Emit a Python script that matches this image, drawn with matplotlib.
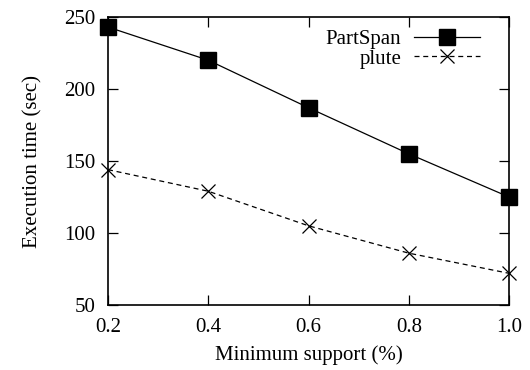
import matplotlib
matplotlib.use('Agg')
import matplotlib.pyplot as plt

plt.rcParams['font.family'] = ['Liberation Serif', 'DejaVu Serif']

support = [0.2, 0.4, 0.6, 0.8, 1.0]
partspan = [243, 220, 187, 155, 125]
plute = [144, 129, 105, 86, 72]

fig = plt.figure(figsize=(5.3, 3.7), dpi=100)
ax = fig.add_axes([108/530, 1-305/370, 401/530, 288/370])

ax.plot(support, partspan, color='black', lw=0.9, marker='s', ms=11,
        clip_on=False, label='PartSpan')
ax.plot(support, plute, color='black', lw=0.9, ls=(0, (4, 3)), marker='x', ms=10,
        mew=0.9, clip_on=False, label='plute')

ax.set_xlim(0.2, 1.0)
ax.set_ylim(50, 250)
ax.set_xticks(support)
ax.set_xticklabels(['0.2', '0.4', '0.6', '0.8', '1.0'])
ax.set_yticks([50, 100, 150, 200, 250])
ax.tick_params(direction='in', top=True, right=True, length=7, width=0.9, labelsize=15)
ax.tick_params(axis='y', pad=9)
ax.tick_params(axis='x', pad=9)
for s in ax.spines.values():
    s.set_linewidth(1.2)

ax.set_xlabel('Minimum support (%)', fontsize=15, labelpad=6)
ax.set_ylabel('Execution time (sec)', fontsize=15, labelpad=16)

ax.legend(loc='upper right', frameon=False, markerfirst=False, fontsize=15,
          handlelength=3.2, handletextpad=0.6, labelspacing=0.0,
          bbox_to_anchor=(0.96, 1.0), borderaxespad=0.2)

fig.savefig('out.png', dpi=100)
